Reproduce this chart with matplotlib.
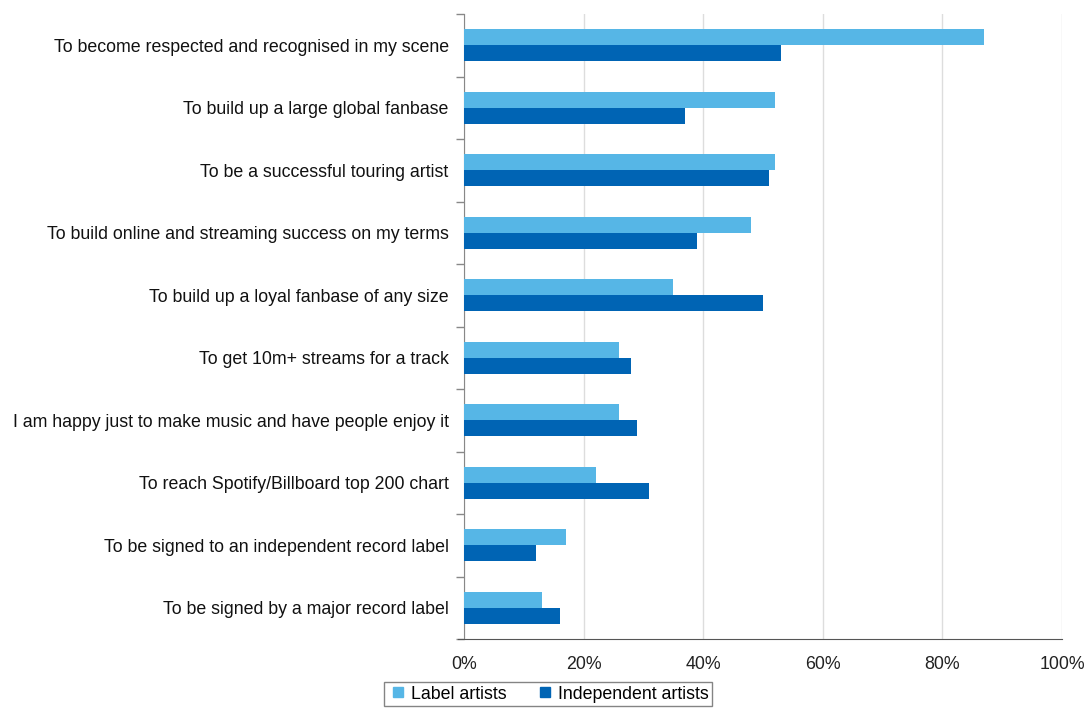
import matplotlib
matplotlib.use("Agg")
import matplotlib.pyplot as plt
import numpy as np
from matplotlib.lines import Line2D

plt.rcParams['font.family'] = ['Liberation Sans', 'DejaVu Sans']

categories = [
    "To become respected and recognised in my scene",
    "To build up a large global fanbase",
    "To be a successful touring artist",
    "To build online and streaming success on my terms",
    "To build up a loyal fanbase of any size",
    "To get 10m+ streams for a track",
    "I am happy just to make music and have people enjoy it",
    "To reach Spotify/Billboard top 200 chart",
    "To be signed to an independent record label",
    "To be signed by a major record label",
]
label_artists = [87, 52, 52, 48, 35, 26, 26, 22, 17, 13]
independent_artists = [53, 37, 51, 39, 50, 28, 29, 31, 12, 16]
x_ticks = [0, 20, 40, 60, 80, 100]

c_label = "#56B6E6"
c_indep = "#0064B4"

fig = plt.figure(figsize=(10.91, 7.08), dpi=100)
ax = fig.add_axes([464/1091, 1-639/708, (1062-464)/1091, (639-14)/708])

n = len(categories)
y = np.arange(n)
h = 0.256
ax.barh(y - h/2, label_artists, height=h, color=c_label, zorder=3, label="Label artists")
ax.barh(y + h/2, independent_artists, height=h, color=c_indep, zorder=3, label="Independent artists")

ax.set_ylim(n - 0.5, -0.5)
ax.set_xlim(0, 100)
ax.set_xticks(x_ticks)
ax.set_xticklabels([f"{v}%" for v in x_ticks], fontsize=12.8, color="#222222")
ax.set_yticks(y)
ax.set_yticklabels(categories, fontsize=12.8, color="#111111")
ax.tick_params(axis='y', which='major', length=0, pad=11)
ax.set_yticks(np.arange(-0.5, n, 1), minor=True)
ax.tick_params(axis='y', which='minor', length=6, color="#888888", width=1)
ax.tick_params(axis='x', which='major', length=0, pad=12)

ax.grid(axis='x', color="#dddddd", linewidth=1, zorder=0)
for s in ['top', 'right']:
    ax.spines[s].set_visible(False)
ax.spines['left'].set_color("#888888")
ax.spines['bottom'].set_color("#555555")
ax.spines['bottom'].set_bounds(-1, 100)
ax.spines['bottom'].set_clip_on(False)

handles = [
    Line2D([], [], marker='s', linestyle='none', markersize=7, color=c_label, label="Label artists"),
    Line2D([], [], marker='s', linestyle='none', markersize=7, color=c_indep, label="Independent artists"),
]
leg = fig.legend(handles=handles, loc='upper center', bbox_to_anchor=(548/1091, 1-682/708),
                 ncol=2, frameon=True, fancybox=False, fontsize=12.8, handletextpad=0.1,
                 columnspacing=1.6, borderpad=0.2, borderaxespad=0, handlelength=1.2)
leg.get_frame().set_edgecolor("#666666")
leg.get_frame().set_linewidth(1)

fig.savefig("out.png", dpi=100)
